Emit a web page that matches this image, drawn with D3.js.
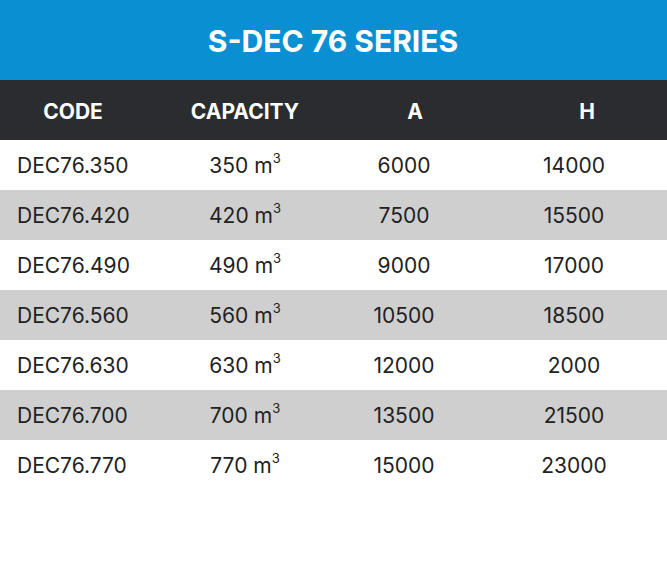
<!DOCTYPE html>
<html><head><meta charset="utf-8">
<script src="https://cdn.jsdelivr.net/npm/d3@7"></script>
<style>body{margin:0;background:#fff}</style>
</head><body>
<svg width="667" height="586"></svg>
<script>
const title = 'S-DEC 76 SERIES';
const headers = ['CODE', 'CAPACITY', 'A', 'H'];
const codes = ['DEC76.350','DEC76.420','DEC76.490','DEC76.560','DEC76.630','DEC76.700','DEC76.770'];
const capacity = [350, 420, 490, 560, 630, 700, 770];
const aVals = [6000, 7500, 9000, 10500, 12000, 13500, 15000];
const hVals = [14000, 15500, 17000, 18500, 2000, 21500, 23000];

const svg = d3.select('svg');
const font = 'Inter, "Noto Sans", sans-serif';

// rows
const y = d3.scaleBand().domain(d3.range(codes.length)).range([140, 490]);
const headX = d3.scaleOrdinal().domain(headers).range([73, 245, 415, 587]);
const cellX = [17, 245, 404, 574];

svg.append('rect').attr('x',0).attr('y',0).attr('width',667).attr('height',80).attr('fill','#0b8fd3');
svg.append('text').attr('x',333).attr('y',44).attr('text-anchor','middle').attr('dominant-baseline','middle')
  .attr('fill','#fff').attr('font-family',font).attr('font-weight',700).attr('font-size',30).text(title);

svg.append('rect').attr('x',0).attr('y',80).attr('width',667).attr('height',60).attr('fill','#2b2c30');
svg.selectAll('.head').data(headers).enter().append('text').classed('head',true)
  .attr('x', d => headX(d)).attr('y',113).attr('text-anchor','middle').attr('dominant-baseline','middle')
  .attr('fill','#fff').attr('font-family',font).attr('font-weight',700).attr('font-size',21).text(d => d);

const rows = svg.selectAll('.row').data(codes).enter().append('g').classed('row',true)
  .attr('transform', (d,i) => `translate(0,${y(i)})`);
rows.append('rect').attr('width',667).attr('height',y.bandwidth())
  .attr('fill', (d,i) => i % 2 ? '#cfcfcf' : '#fff');

const txt = (sel, x, anchor) => sel.append('text').attr('x',x).attr('y',y.bandwidth()/2+2)
  .attr('text-anchor',anchor).attr('dominant-baseline','middle')
  .attr('fill','#222').attr('font-family',font).attr('font-size',21);

txt(rows, cellX[0], 'start').text(d => d);
const cap = txt(rows, cellX[1], 'middle');
cap.append('tspan').text((d,i) => capacity[i] + ' m');
cap.append('tspan').attr('font-size',13).attr('dy',-8).text('3');
txt(rows, cellX[2], 'middle').text((d,i) => aVals[i]);
txt(rows, cellX[3], 'middle').text((d,i) => hVals[i]);
</script>
</body></html>
